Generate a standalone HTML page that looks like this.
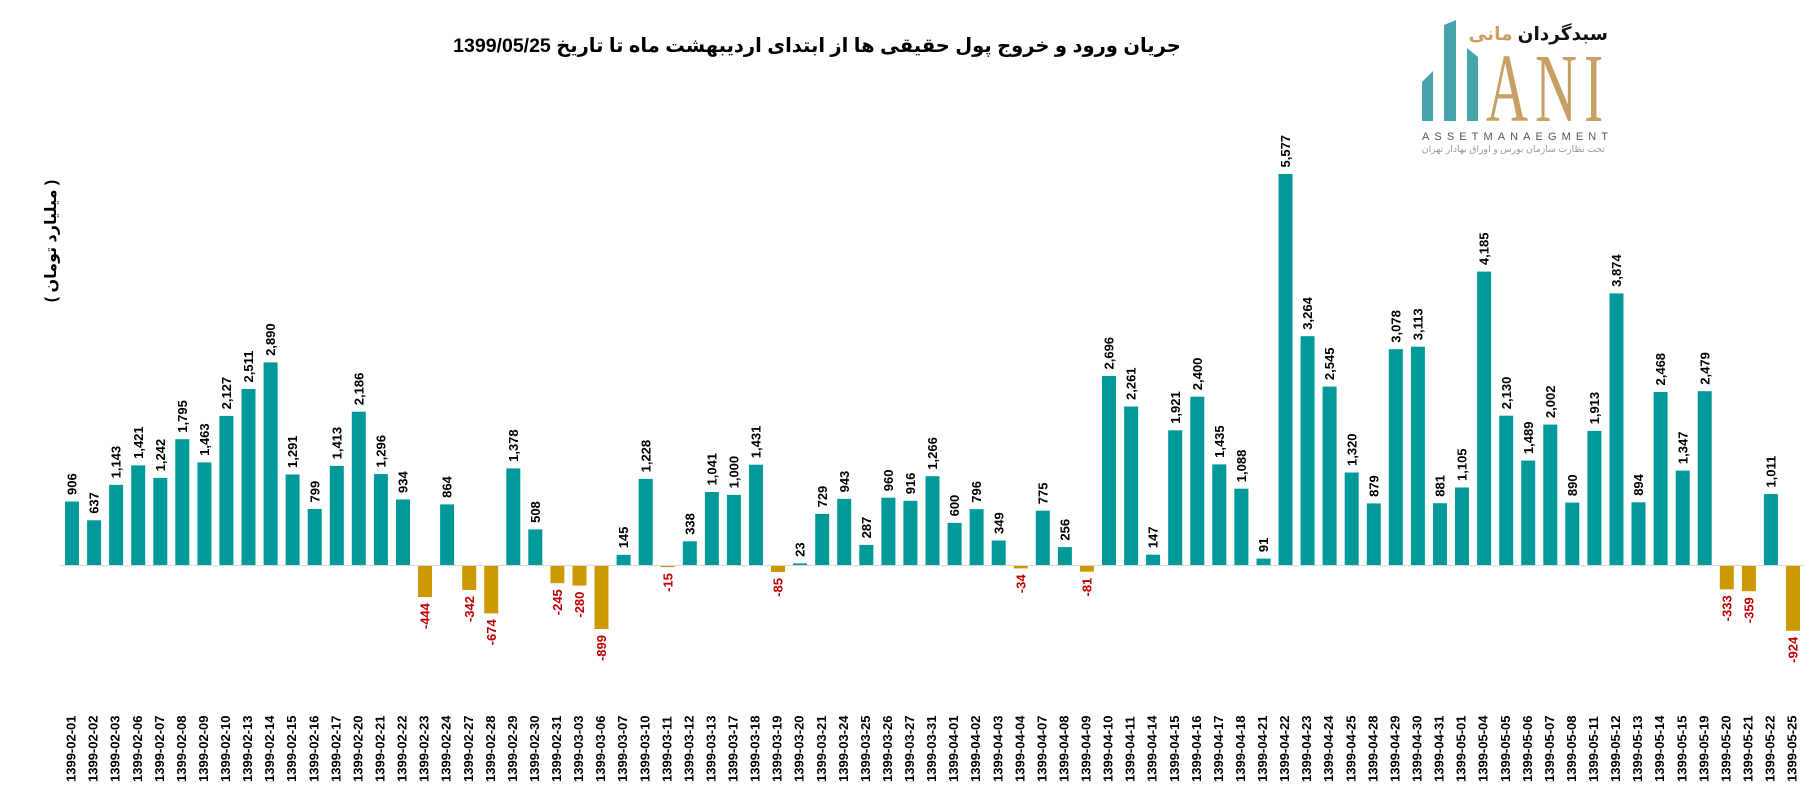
<!DOCTYPE html>
<html><head><meta charset="utf-8">
<style>
html,body{margin:0;padding:0;background:#fff;}
#wrap{position:relative;width:1816px;height:795px;overflow:hidden;background:#fff;}
svg{position:absolute;left:0;top:0;}
.v{font-family:"Liberation Sans",sans-serif;font-size:13px;font-weight:bold;fill:#000;}
.n{font-family:"Liberation Sans",sans-serif;font-size:13px;font-weight:bold;fill:#c00000;text-anchor:end;}
.d{font-family:"Liberation Sans",sans-serif;font-size:13px;font-weight:bold;fill:#000;}
.p{fill:#009999;}
.g{fill:#cc9900;}
.fa{position:absolute;white-space:nowrap;font-family:"Liberation Sans","DejaVu Sans",sans-serif;}
</style></head>
<body><div id="wrap">
<svg width="1816" height="795" viewBox="0 0 1816 795" xmlns="http://www.w3.org/2000/svg">
<rect class="p" x="65.0" y="501.5" width="14" height="63.5"/>
<rect class="p" x="87.1" y="520.3" width="14" height="44.7"/>
<rect class="p" x="109.1" y="484.9" width="14" height="80.1"/>
<rect class="p" x="131.2" y="465.4" width="14" height="99.6"/>
<rect class="p" x="153.3" y="477.9" width="14" height="87.1"/>
<rect class="p" x="175.3" y="439.2" width="14" height="125.8"/>
<rect class="p" x="197.4" y="462.4" width="14" height="102.6"/>
<rect class="p" x="219.4" y="415.9" width="14" height="149.1"/>
<rect class="p" x="241.5" y="389.0" width="14" height="176.0"/>
<rect class="p" x="263.6" y="362.4" width="14" height="202.6"/>
<rect class="p" x="285.6" y="474.5" width="14" height="90.5"/>
<rect class="p" x="307.7" y="509.0" width="14" height="56.0"/>
<rect class="p" x="329.8" y="465.9" width="14" height="99.1"/>
<rect class="p" x="351.8" y="411.7" width="14" height="153.3"/>
<rect class="p" x="373.9" y="474.1" width="14" height="90.9"/>
<rect class="p" x="396.0" y="499.5" width="14" height="65.5"/>
<rect class="g" x="418.0" y="566" width="14" height="31.1"/>
<rect class="p" x="440.1" y="504.4" width="14" height="60.6"/>
<rect class="g" x="462.2" y="566" width="14" height="24.0"/>
<rect class="g" x="484.2" y="566" width="14" height="47.3"/>
<rect class="p" x="506.3" y="468.4" width="14" height="96.6"/>
<rect class="p" x="528.3" y="529.4" width="14" height="35.6"/>
<rect class="g" x="550.4" y="566" width="14" height="17.2"/>
<rect class="g" x="572.5" y="566" width="14" height="19.6"/>
<rect class="g" x="594.5" y="566" width="14" height="63.0"/>
<rect class="p" x="616.6" y="554.8" width="14" height="10.2"/>
<rect class="p" x="638.7" y="478.9" width="14" height="86.1"/>
<rect class="g" x="660.7" y="566" width="14" height="1.1"/>
<rect class="p" x="682.8" y="541.3" width="14" height="23.7"/>
<rect class="p" x="704.9" y="492.0" width="14" height="73.0"/>
<rect class="p" x="726.9" y="494.9" width="14" height="70.1"/>
<rect class="p" x="749.0" y="464.7" width="14" height="100.3"/>
<rect class="g" x="771.0" y="566" width="14" height="6.0"/>
<rect class="p" x="793.1" y="563.4" width="14" height="1.6"/>
<rect class="p" x="815.2" y="513.9" width="14" height="51.1"/>
<rect class="p" x="837.2" y="498.9" width="14" height="66.1"/>
<rect class="p" x="859.3" y="544.9" width="14" height="20.1"/>
<rect class="p" x="881.4" y="497.7" width="14" height="67.3"/>
<rect class="p" x="903.4" y="500.8" width="14" height="64.2"/>
<rect class="p" x="925.5" y="476.2" width="14" height="88.8"/>
<rect class="p" x="947.6" y="522.9" width="14" height="42.1"/>
<rect class="p" x="969.6" y="509.2" width="14" height="55.8"/>
<rect class="p" x="991.7" y="540.5" width="14" height="24.5"/>
<rect class="g" x="1013.8" y="566" width="14" height="2.4"/>
<rect class="p" x="1035.8" y="510.7" width="14" height="54.3"/>
<rect class="p" x="1057.9" y="547.1" width="14" height="17.9"/>
<rect class="g" x="1079.9" y="566" width="14" height="5.7"/>
<rect class="p" x="1102.0" y="376.0" width="14" height="189.0"/>
<rect class="p" x="1124.1" y="406.5" width="14" height="158.5"/>
<rect class="p" x="1146.1" y="554.7" width="14" height="10.3"/>
<rect class="p" x="1168.2" y="430.3" width="14" height="134.7"/>
<rect class="p" x="1190.3" y="396.7" width="14" height="168.3"/>
<rect class="p" x="1212.3" y="464.4" width="14" height="100.6"/>
<rect class="p" x="1234.4" y="488.7" width="14" height="76.3"/>
<rect class="p" x="1256.5" y="558.6" width="14" height="6.4"/>
<rect class="p" x="1278.5" y="174.0" width="14" height="391.0"/>
<rect class="p" x="1300.6" y="336.2" width="14" height="228.8"/>
<rect class="p" x="1322.6" y="386.6" width="14" height="178.4"/>
<rect class="p" x="1344.7" y="472.5" width="14" height="92.5"/>
<rect class="p" x="1366.8" y="503.4" width="14" height="61.6"/>
<rect class="p" x="1388.8" y="349.2" width="14" height="215.8"/>
<rect class="p" x="1410.9" y="346.7" width="14" height="218.3"/>
<rect class="p" x="1433.0" y="503.2" width="14" height="61.8"/>
<rect class="p" x="1455.0" y="487.5" width="14" height="77.5"/>
<rect class="p" x="1477.1" y="271.6" width="14" height="293.4"/>
<rect class="p" x="1499.2" y="415.7" width="14" height="149.3"/>
<rect class="p" x="1521.2" y="460.6" width="14" height="104.4"/>
<rect class="p" x="1543.3" y="424.6" width="14" height="140.4"/>
<rect class="p" x="1565.3" y="502.6" width="14" height="62.4"/>
<rect class="p" x="1587.4" y="430.9" width="14" height="134.1"/>
<rect class="p" x="1609.5" y="293.4" width="14" height="271.6"/>
<rect class="p" x="1631.5" y="502.3" width="14" height="62.7"/>
<rect class="p" x="1653.6" y="392.0" width="14" height="173.0"/>
<rect class="p" x="1675.7" y="470.6" width="14" height="94.4"/>
<rect class="p" x="1697.7" y="391.2" width="14" height="173.8"/>
<rect class="g" x="1719.8" y="566" width="14" height="23.3"/>
<rect class="g" x="1741.9" y="566" width="14" height="25.2"/>
<rect class="p" x="1763.9" y="494.1" width="14" height="70.9"/>
<rect class="g" x="1786.0" y="566" width="14" height="64.8"/>
<rect x="60" y="565" width="1744" height="1" fill="#d9d9d9"/>
<text class="v" transform="translate(76.6,495.0) rotate(-90)">906</text>
<text class="v" transform="translate(98.7,513.8) rotate(-90)">637</text>
<text class="v" transform="translate(120.7,478.4) rotate(-90)">1,143</text>
<text class="v" transform="translate(142.8,458.9) rotate(-90)">1,421</text>
<text class="v" transform="translate(164.9,471.4) rotate(-90)">1,242</text>
<text class="v" transform="translate(186.9,432.7) rotate(-90)">1,795</text>
<text class="v" transform="translate(209.0,455.9) rotate(-90)">1,463</text>
<text class="v" transform="translate(231.0,409.4) rotate(-90)">2,127</text>
<text class="v" transform="translate(253.1,382.5) rotate(-90)">2,511</text>
<text class="v" transform="translate(275.2,355.9) rotate(-90)">2,890</text>
<text class="v" transform="translate(297.2,468.0) rotate(-90)">1,291</text>
<text class="v" transform="translate(319.3,502.5) rotate(-90)">799</text>
<text class="v" transform="translate(341.4,459.4) rotate(-90)">1,413</text>
<text class="v" transform="translate(363.4,405.2) rotate(-90)">2,186</text>
<text class="v" transform="translate(385.5,467.6) rotate(-90)">1,296</text>
<text class="v" transform="translate(407.6,493.0) rotate(-90)">934</text>
<text class="n" transform="translate(429.6,603.1) rotate(-90)">-444</text>
<text class="v" transform="translate(451.7,497.9) rotate(-90)">864</text>
<text class="n" transform="translate(473.8,596.0) rotate(-90)">-342</text>
<text class="n" transform="translate(495.8,619.3) rotate(-90)">-674</text>
<text class="v" transform="translate(517.9,461.9) rotate(-90)">1,378</text>
<text class="v" transform="translate(539.9,522.9) rotate(-90)">508</text>
<text class="n" transform="translate(562.0,589.2) rotate(-90)">-245</text>
<text class="n" transform="translate(584.1,591.6) rotate(-90)">-280</text>
<text class="n" transform="translate(606.1,635.0) rotate(-90)">-899</text>
<text class="v" transform="translate(628.2,548.3) rotate(-90)">145</text>
<text class="v" transform="translate(650.3,472.4) rotate(-90)">1,228</text>
<text class="n" transform="translate(672.3,573.1) rotate(-90)">-15</text>
<text class="v" transform="translate(694.4,534.8) rotate(-90)">338</text>
<text class="v" transform="translate(716.5,485.5) rotate(-90)">1,041</text>
<text class="v" transform="translate(738.5,488.4) rotate(-90)">1,000</text>
<text class="v" transform="translate(760.6,458.2) rotate(-90)">1,431</text>
<text class="n" transform="translate(782.6,578.0) rotate(-90)">-85</text>
<text class="v" transform="translate(804.7,556.9) rotate(-90)">23</text>
<text class="v" transform="translate(826.8,507.4) rotate(-90)">729</text>
<text class="v" transform="translate(848.8,492.4) rotate(-90)">943</text>
<text class="v" transform="translate(870.9,538.4) rotate(-90)">287</text>
<text class="v" transform="translate(893.0,491.2) rotate(-90)">960</text>
<text class="v" transform="translate(915.0,494.3) rotate(-90)">916</text>
<text class="v" transform="translate(937.1,469.7) rotate(-90)">1,266</text>
<text class="v" transform="translate(959.2,516.4) rotate(-90)">600</text>
<text class="v" transform="translate(981.2,502.7) rotate(-90)">796</text>
<text class="v" transform="translate(1003.3,534.0) rotate(-90)">349</text>
<text class="n" transform="translate(1025.4,574.4) rotate(-90)">-34</text>
<text class="v" transform="translate(1047.4,504.2) rotate(-90)">775</text>
<text class="v" transform="translate(1069.5,540.6) rotate(-90)">256</text>
<text class="n" transform="translate(1091.5,577.7) rotate(-90)">-81</text>
<text class="v" transform="translate(1113.6,369.5) rotate(-90)">2,696</text>
<text class="v" transform="translate(1135.7,400.0) rotate(-90)">2,261</text>
<text class="v" transform="translate(1157.7,548.2) rotate(-90)">147</text>
<text class="v" transform="translate(1179.8,423.8) rotate(-90)">1,921</text>
<text class="v" transform="translate(1201.9,390.2) rotate(-90)">2,400</text>
<text class="v" transform="translate(1223.9,457.9) rotate(-90)">1,435</text>
<text class="v" transform="translate(1246.0,482.2) rotate(-90)">1,088</text>
<text class="v" transform="translate(1268.1,552.1) rotate(-90)">91</text>
<text class="v" transform="translate(1290.1,167.5) rotate(-90)">5,577</text>
<text class="v" transform="translate(1312.2,329.7) rotate(-90)">3,264</text>
<text class="v" transform="translate(1334.2,380.1) rotate(-90)">2,545</text>
<text class="v" transform="translate(1356.3,466.0) rotate(-90)">1,320</text>
<text class="v" transform="translate(1378.4,496.9) rotate(-90)">879</text>
<text class="v" transform="translate(1400.4,342.7) rotate(-90)">3,078</text>
<text class="v" transform="translate(1422.5,340.2) rotate(-90)">3,113</text>
<text class="v" transform="translate(1444.6,496.7) rotate(-90)">881</text>
<text class="v" transform="translate(1466.6,481.0) rotate(-90)">1,105</text>
<text class="v" transform="translate(1488.7,265.1) rotate(-90)">4,185</text>
<text class="v" transform="translate(1510.8,409.2) rotate(-90)">2,130</text>
<text class="v" transform="translate(1532.8,454.1) rotate(-90)">1,489</text>
<text class="v" transform="translate(1554.9,418.1) rotate(-90)">2,002</text>
<text class="v" transform="translate(1576.9,496.1) rotate(-90)">890</text>
<text class="v" transform="translate(1599.0,424.4) rotate(-90)">1,913</text>
<text class="v" transform="translate(1621.1,286.9) rotate(-90)">3,874</text>
<text class="v" transform="translate(1643.1,495.8) rotate(-90)">894</text>
<text class="v" transform="translate(1665.2,385.5) rotate(-90)">2,468</text>
<text class="v" transform="translate(1687.3,464.1) rotate(-90)">1,347</text>
<text class="v" transform="translate(1709.3,384.7) rotate(-90)">2,479</text>
<text class="n" transform="translate(1731.4,595.3) rotate(-90)">-333</text>
<text class="n" transform="translate(1753.5,597.2) rotate(-90)">-359</text>
<text class="v" transform="translate(1775.5,487.6) rotate(-90)">1,011</text>
<text class="n" transform="translate(1797.6,636.8) rotate(-90)">-924</text>
<text class="d" transform="translate(75.6,782) rotate(-90)">1399-02-01</text>
<text class="d" transform="translate(97.7,782) rotate(-90)">1399-02-02</text>
<text class="d" transform="translate(119.7,782) rotate(-90)">1399-02-03</text>
<text class="d" transform="translate(141.8,782) rotate(-90)">1399-02-06</text>
<text class="d" transform="translate(163.9,782) rotate(-90)">1399-02-07</text>
<text class="d" transform="translate(185.9,782) rotate(-90)">1399-02-08</text>
<text class="d" transform="translate(208.0,782) rotate(-90)">1399-02-09</text>
<text class="d" transform="translate(230.0,782) rotate(-90)">1399-02-10</text>
<text class="d" transform="translate(252.1,782) rotate(-90)">1399-02-13</text>
<text class="d" transform="translate(274.2,782) rotate(-90)">1399-02-14</text>
<text class="d" transform="translate(296.2,782) rotate(-90)">1399-02-15</text>
<text class="d" transform="translate(318.3,782) rotate(-90)">1399-02-16</text>
<text class="d" transform="translate(340.4,782) rotate(-90)">1399-02-17</text>
<text class="d" transform="translate(362.4,782) rotate(-90)">1399-02-20</text>
<text class="d" transform="translate(384.5,782) rotate(-90)">1399-02-21</text>
<text class="d" transform="translate(406.6,782) rotate(-90)">1399-02-22</text>
<text class="d" transform="translate(428.6,782) rotate(-90)">1399-02-23</text>
<text class="d" transform="translate(450.7,782) rotate(-90)">1399-02-24</text>
<text class="d" transform="translate(472.8,782) rotate(-90)">1399-02-27</text>
<text class="d" transform="translate(494.8,782) rotate(-90)">1399-02-28</text>
<text class="d" transform="translate(516.9,782) rotate(-90)">1399-02-29</text>
<text class="d" transform="translate(538.9,782) rotate(-90)">1399-02-30</text>
<text class="d" transform="translate(561.0,782) rotate(-90)">1399-02-31</text>
<text class="d" transform="translate(583.1,782) rotate(-90)">1399-03-03</text>
<text class="d" transform="translate(605.1,782) rotate(-90)">1399-03-06</text>
<text class="d" transform="translate(627.2,782) rotate(-90)">1399-03-07</text>
<text class="d" transform="translate(649.3,782) rotate(-90)">1399-03-10</text>
<text class="d" transform="translate(671.3,782) rotate(-90)">1399-03-11</text>
<text class="d" transform="translate(693.4,782) rotate(-90)">1399-03-12</text>
<text class="d" transform="translate(715.5,782) rotate(-90)">1399-03-13</text>
<text class="d" transform="translate(737.5,782) rotate(-90)">1399-03-17</text>
<text class="d" transform="translate(759.6,782) rotate(-90)">1399-03-18</text>
<text class="d" transform="translate(781.6,782) rotate(-90)">1399-03-19</text>
<text class="d" transform="translate(803.7,782) rotate(-90)">1399-03-20</text>
<text class="d" transform="translate(825.8,782) rotate(-90)">1399-03-21</text>
<text class="d" transform="translate(847.8,782) rotate(-90)">1399-03-24</text>
<text class="d" transform="translate(869.9,782) rotate(-90)">1399-03-25</text>
<text class="d" transform="translate(892.0,782) rotate(-90)">1399-03-26</text>
<text class="d" transform="translate(914.0,782) rotate(-90)">1399-03-27</text>
<text class="d" transform="translate(936.1,782) rotate(-90)">1399-03-31</text>
<text class="d" transform="translate(958.2,782) rotate(-90)">1399-04-01</text>
<text class="d" transform="translate(980.2,782) rotate(-90)">1399-04-02</text>
<text class="d" transform="translate(1002.3,782) rotate(-90)">1399-04-03</text>
<text class="d" transform="translate(1024.4,782) rotate(-90)">1399-04-04</text>
<text class="d" transform="translate(1046.4,782) rotate(-90)">1399-04-07</text>
<text class="d" transform="translate(1068.5,782) rotate(-90)">1399-04-08</text>
<text class="d" transform="translate(1090.5,782) rotate(-90)">1399-04-09</text>
<text class="d" transform="translate(1112.6,782) rotate(-90)">1399-04-10</text>
<text class="d" transform="translate(1134.7,782) rotate(-90)">1399-04-11</text>
<text class="d" transform="translate(1156.7,782) rotate(-90)">1399-04-14</text>
<text class="d" transform="translate(1178.8,782) rotate(-90)">1399-04-15</text>
<text class="d" transform="translate(1200.9,782) rotate(-90)">1399-04-16</text>
<text class="d" transform="translate(1222.9,782) rotate(-90)">1399-04-17</text>
<text class="d" transform="translate(1245.0,782) rotate(-90)">1399-04-18</text>
<text class="d" transform="translate(1267.1,782) rotate(-90)">1399-04-21</text>
<text class="d" transform="translate(1289.1,782) rotate(-90)">1399-04-22</text>
<text class="d" transform="translate(1311.2,782) rotate(-90)">1399-04-23</text>
<text class="d" transform="translate(1333.2,782) rotate(-90)">1399-04-24</text>
<text class="d" transform="translate(1355.3,782) rotate(-90)">1399-04-25</text>
<text class="d" transform="translate(1377.4,782) rotate(-90)">1399-04-28</text>
<text class="d" transform="translate(1399.4,782) rotate(-90)">1399-04-29</text>
<text class="d" transform="translate(1421.5,782) rotate(-90)">1399-04-30</text>
<text class="d" transform="translate(1443.6,782) rotate(-90)">1399-04-31</text>
<text class="d" transform="translate(1465.6,782) rotate(-90)">1399-05-01</text>
<text class="d" transform="translate(1487.7,782) rotate(-90)">1399-05-04</text>
<text class="d" transform="translate(1509.8,782) rotate(-90)">1399-05-05</text>
<text class="d" transform="translate(1531.8,782) rotate(-90)">1399-05-06</text>
<text class="d" transform="translate(1553.9,782) rotate(-90)">1399-05-07</text>
<text class="d" transform="translate(1575.9,782) rotate(-90)">1399-05-08</text>
<text class="d" transform="translate(1598.0,782) rotate(-90)">1399-05-11</text>
<text class="d" transform="translate(1620.1,782) rotate(-90)">1399-05-12</text>
<text class="d" transform="translate(1642.1,782) rotate(-90)">1399-05-13</text>
<text class="d" transform="translate(1664.2,782) rotate(-90)">1399-05-14</text>
<text class="d" transform="translate(1686.3,782) rotate(-90)">1399-05-15</text>
<text class="d" transform="translate(1708.3,782) rotate(-90)">1399-05-19</text>
<text class="d" transform="translate(1730.4,782) rotate(-90)">1399-05-20</text>
<text class="d" transform="translate(1752.5,782) rotate(-90)">1399-05-21</text>
<text class="d" transform="translate(1774.5,782) rotate(-90)">1399-05-22</text>
<text class="d" transform="translate(1796.6,782) rotate(-90)">1399-05-25</text>
<polygon points="1422,82 1433,71 1433,121 1422,121" fill="#45a4ac"/>
<polygon points="1444,25 1456,20 1456,121 1444,121" fill="#45a4ac"/>
<polygon points="1467,48 1478,57 1478,121 1467,121" fill="#45a4ac"/>
<text transform="translate(1486,121) scale(0.6,1)" font-family="Liberation Serif" font-size="97" fill="#c8a064">A</text>
<text transform="translate(1535,121) scale(0.6,1)" font-family="Liberation Serif" font-size="97" fill="#c8a064">N</text>
<text transform="translate(1584,121) scale(0.6,1)" font-family="Liberation Serif" font-size="97" fill="#c8a064">I</text>
<text x="1422" y="140" font-family="Liberation Sans" font-size="11" fill="#555" textLength="186" lengthAdjust="spacing">ASSETMANAEGMENT</text>
</svg>
<div class="fa" dir="rtl" style="left:317px;width:1000px;top:36px;text-align:center;font-weight:bold;font-size:19.5px;line-height:21px;color:#000;">جریان ورود و خروج پول حقیقی ها از ابتدای اردیبهشت ماه تا تاریخ 1399/05/25</div>
<div class="fa" dir="rtl" style="left:-48px;top:231px;width:200px;height:20px;line-height:20px;text-align:center;font-size:16px;font-weight:bold;color:#000;transform:rotate(-90deg);">( میلیارد تومان )</div>
<div class="fa" dir="rtl" style="left:1408px;width:200px;top:22px;text-align:right;font-size:18.5px;font-weight:bold;line-height:24px;color:#111;">سبدگردان <span style="color:#c8a064">مانی</span></div>
<div class="fa" dir="rtl" style="left:1405px;width:200px;top:143px;text-align:right;font-size:9.3px;line-height:12px;color:#999;">تحت نظارت سازمان بورس و اوراق بهادار تهران</div>
</div></body></html>
